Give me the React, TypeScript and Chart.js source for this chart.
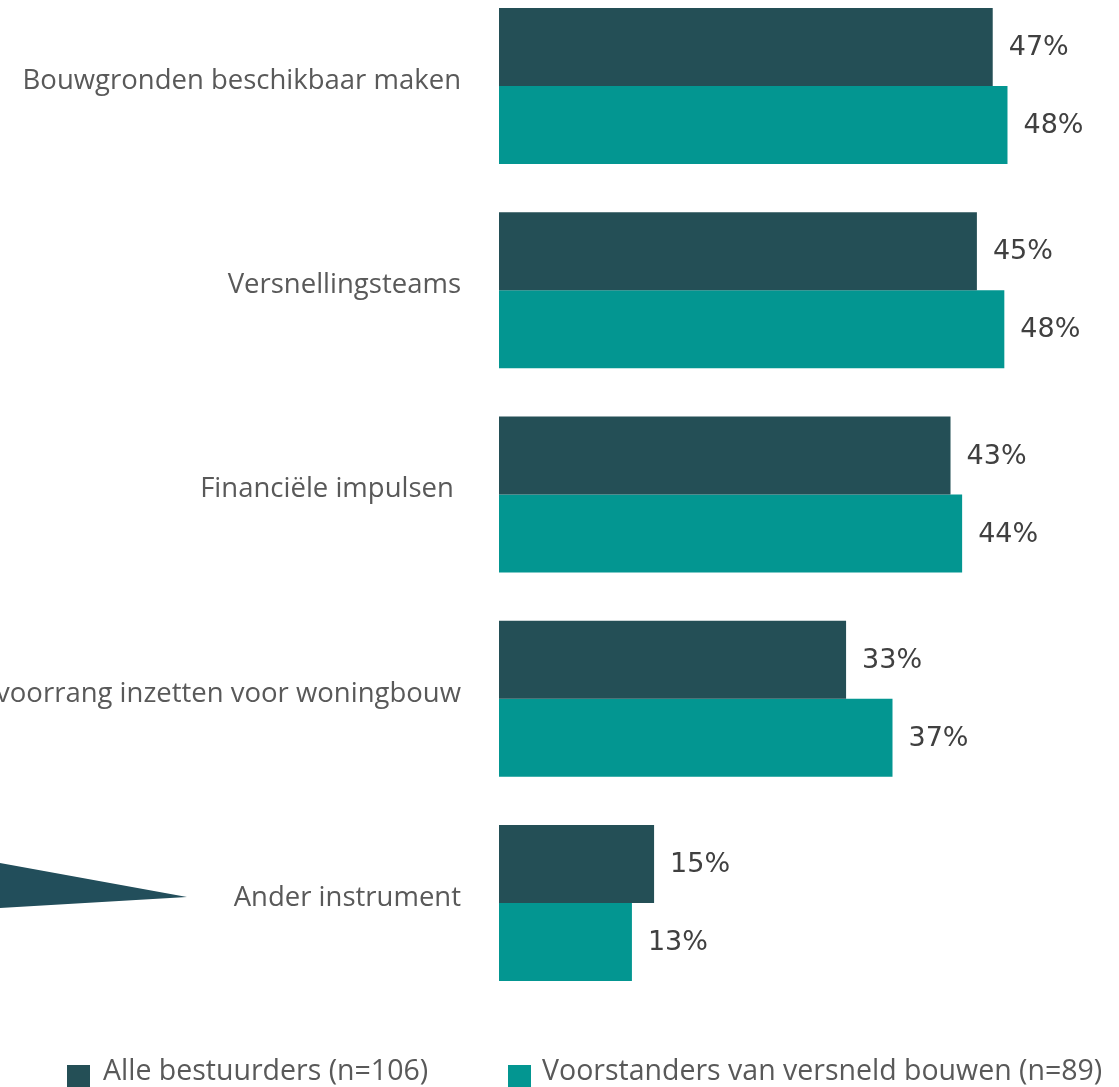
import React, { useEffect, useRef } from "react";
import { Chart, registerables } from "chart.js";

Chart.register(...registerables);

const categories = [
  "Bouwgronden beschikbaar maken",
  "Versnellingsteams",
  "Financiële impulsen ",
  "voorrang inzetten voor woningbouw",
  "Ander instrument",
];
const seriesNames = ["Alle bestuurders (n=106)", "Voorstanders van versneld bouwen (n=89)"];
const allBestuurders = [46.8, 45.3, 42.8, 32.9, 14.7];
const voorstanders = [48.2, 47.9, 43.9, 37.3, 12.6];
const colors = ["#244F56", "#039691"];

const LABEL_FONT = "'Open Sans', Lato, sans-serif";

const dataLabelPlugin = {
  id: "dataLabels",
  afterDatasetsDraw(chart: any) {
    const ctx = chart.ctx;
    ctx.save();
    ctx.font = `27px 'DejaVu Sans', sans-serif`;
    ctx.fillStyle = "#404040";
    ctx.textAlign = "left";
    ctx.textBaseline = "middle";
    chart.data.datasets.forEach((ds: any, i: number) => {
      const meta = chart.getDatasetMeta(i);
      meta.data.forEach((bar: any, j: number) => {
        ctx.fillText(Math.round(ds.data[j]) + "%", bar.x + 16, bar.y + 1);
      });
    });
    ctx.restore();
  },
};

const wedgePlugin = {
  id: "wedge",
  afterDraw(chart: any) {
    const y = chart.scales.y.getPixelForValue(categories.length - 1);
    const ctx = chart.ctx;
    ctx.save();
    ctx.fillStyle = "#224E5B";
    ctx.beginPath();
    ctx.moveTo(0, y - 40);
    ctx.lineTo(187, y - 6);
    ctx.lineTo(0, y + 5);
    ctx.closePath();
    ctx.fill();
    ctx.restore();
  },
};

const legendPlugin = {
  id: "customLegend",
  afterDraw(chart: any) {
    const ctx = chart.ctx;
    const top = chart.height - 22;
    const boxes = [67, 508];
    const texts = [103, 542];
    ctx.save();
    ctx.font = `28.5px ${LABEL_FONT}`;
    ctx.textBaseline = "alphabetic";
    ctx.textAlign = "left";
    chart.data.datasets.forEach((ds: any, i: number) => {
      ctx.fillStyle = ds.backgroundColor;
      ctx.fillRect(boxes[i], top, 23, 22);
      ctx.fillStyle = "#595959";
      ctx.fillText(ds.label, texts[i], chart.height - 7);
    });
    ctx.restore();
  },
};

export default function App() {
  const ref = useRef<HTMLCanvasElement>(null);
  useEffect(() => {
    document.body.style.margin = "0";
    const chart = new Chart(ref.current!, {
      type: "bar",
      data: {
        labels: categories,
        datasets: [
          { label: seriesNames[0], data: allBestuurders, backgroundColor: colors[0] },
          { label: seriesNames[1], data: voorstanders, backgroundColor: colors[1] },
        ],
      },
      options: {
        indexAxis: "y",
        animation: false,
        responsive: false,
        devicePixelRatio: 1,
        layout: { padding: { top: 0, bottom: 82, left: 0, right: 0 } },
        datasets: { bar: { categoryPercentage: 0.764, barPercentage: 1 } },
        plugins: { legend: { display: false }, tooltip: { enabled: false } },
        scales: {
          x: { display: false, min: 0, max: 58.77 },
          y: {
            grid: { display: false, drawTicks: false },
            border: { display: false },
            ticks: {
              color: "#595959",
              padding: 38,
              labelOffset: -5,
              font: { size: 27.5, family: LABEL_FONT },
            },
            afterFit(scale: any) {
              scale.width = 499;
              scale.paddingTop = 0;
              scale.paddingBottom = 0;
            },
          },
        },
      },
      plugins: [dataLabelPlugin, wedgePlugin, legendPlugin],
    });
    return () => chart.destroy();
  }, []);
  return (
    <div style={{ position: "relative", width: 1119, height: 1087, overflow: "hidden" }}>
      <canvas
        ref={ref}
        width={1119}
        height={1103}
        style={{ position: "absolute", top: -16, left: 0, width: 1119, height: 1103 }}
      />
    </div>
  );
}
